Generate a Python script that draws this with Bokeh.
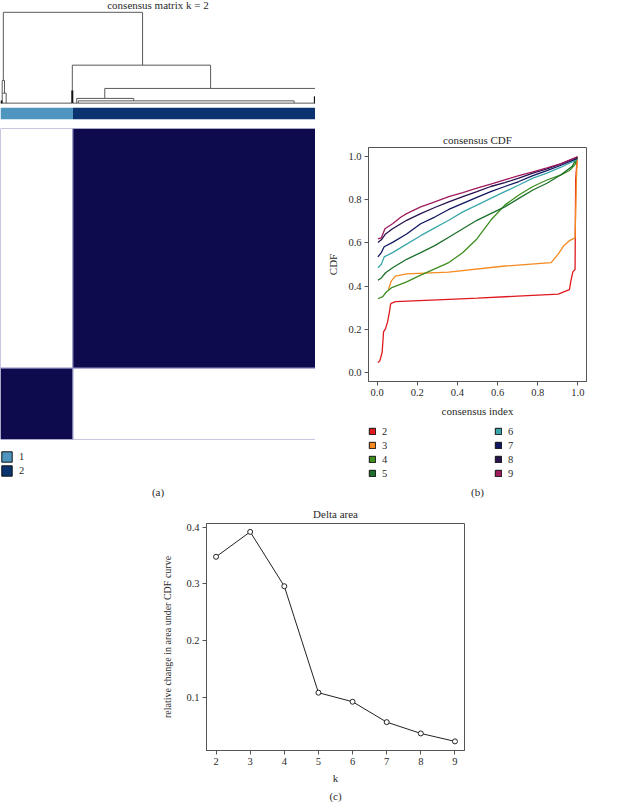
import numpy as np
from bokeh.plotting import figure
from bokeh.layouts import column, row
from bokeh.models import (Range1d, FixedTicker, Legend, LegendItem, Title, Spacer, ColumnDataSource,
                          Label, PrintfTickFormatter)
from bokeh.transform import linear_cmap
from bokeh.embed import file_html
from bokeh.resources import INLINE

FONT = "Liberation Serif"
TXT = "#2a2a2a"
FRAME = "#555555"

# ---------------- Panel (a): consensus matrix k = 2 ----------------
n_samples = 100
cluster_sizes = [23, 77]
cluster_labels = ["1", "2"]
cluster_colors = ["#4E96BF", "#0A3370"]
block_consensus = [[1.0, 0.0], [0.0, 1.0]]
heat_palette = ["#FFFFFF", "#0E0A4E"]

# dendrogram merges (left x, right x, merge height, left child height, right child height)
dend_xl = [0.9, 0.54, 0.54, 22.8, 33.1, 24.2, 24.7, 0.0, 23.0]
dend_xr = [45.1, 1.27, 1.8, 66.7, 100.0, 42.3, 93.2, 22.6, 100.0]
dend_h = [1.0, 0.25, 0.11, 0.418, 0.162, 0.052, 0.025, 0.0, 0.0]
dend_hl = [0.25, 0.11, 0.0, 0.0, 0.052, 0.0, 0.0, 0.0, 0.0]
dend_hr = [0.418, 0.11, 0.0, 0.162, 0.0, 0.025, 0.0, 0.0, 0.0]
# dense clumps of leaf merges near height 0
clump_x = [0.3, 22.8, 99.8]
clump_h = [0.03, 0.14, 0.075]

# ---------------- Panel (b): consensus CDF ----------------
cdf_k = ["2", "3", "4", "5", "6", "7", "8", "9"]
cdf_colors = ["#E0191E", "#F58A1F", "#3E8E1F", "#1C6F2A", "#3AA7AA", "#111660", "#26124F", "#A01B5E"]

cdf2_x = [0.004, 0.014, 0.025, 0.032, 0.042, 0.052, 0.060, 0.067, 0.070, 0.091, 0.30, 0.50, 0.70, 0.902, 0.958, 0.965, 0.975, 0.986, 0.989, 0.997]
cdf2_y = [0.048, 0.056, 0.095, 0.189, 0.204, 0.235, 0.274, 0.316, 0.321, 0.329, 0.337, 0.345, 0.354, 0.363, 0.384, 0.423, 0.466, 0.477, 0.890, 0.997]

cdf3_x = [0.056, 0.070, 0.091, 0.147, 0.357, 0.636, 0.867, 0.902, 0.930, 0.958, 0.986, 0.993, 0.997]
cdf3_y = [0.384, 0.423, 0.446, 0.457, 0.465, 0.493, 0.509, 0.548, 0.587, 0.610, 0.623, 0.900, 0.997]

cdf4_x = [0.004, 0.028, 0.046, 0.070, 0.147, 0.217, 0.287, 0.357, 0.427, 0.497, 0.566, 0.636, 0.706, 0.776, 0.846, 0.916, 0.958, 0.986, 0.997]
cdf4_y = [0.342, 0.352, 0.373, 0.392, 0.420, 0.451, 0.480, 0.509, 0.555, 0.618, 0.704, 0.774, 0.821, 0.860, 0.890, 0.914, 0.934, 0.961, 0.997]

cdf5_x = [0.004, 0.021, 0.042, 0.077, 0.147, 0.217, 0.287, 0.357, 0.427, 0.497, 0.566, 0.636, 0.706, 0.776, 0.846, 0.916, 0.972, 0.997]
cdf5_y = [0.427, 0.438, 0.462, 0.485, 0.524, 0.555, 0.587, 0.626, 0.665, 0.704, 0.735, 0.766, 0.805, 0.844, 0.875, 0.914, 0.953, 0.997]

cdf6_x = [0.004, 0.021, 0.035, 0.077, 0.147, 0.217, 0.287, 0.357, 0.427, 0.497, 0.566, 0.636, 0.706, 0.776, 0.846, 0.916, 0.997]
cdf6_y = [0.485, 0.501, 0.535, 0.555, 0.594, 0.633, 0.669, 0.704, 0.743, 0.774, 0.805, 0.836, 0.867, 0.899, 0.922, 0.949, 0.985]

cdf7_x = [0.004, 0.021, 0.035, 0.077, 0.147, 0.217, 0.287, 0.357, 0.427, 0.497, 0.566, 0.636, 0.706, 0.776, 0.846, 0.916, 0.997]
cdf7_y = [0.535, 0.555, 0.582, 0.602, 0.641, 0.688, 0.719, 0.754, 0.782, 0.810, 0.836, 0.860, 0.883, 0.910, 0.933, 0.958, 0.990]

cdf8_x = [0.004, 0.021, 0.042, 0.077, 0.147, 0.217, 0.287, 0.357, 0.427, 0.497, 0.566, 0.636, 0.706, 0.776, 0.846, 0.916, 0.997]
cdf8_y = [0.602, 0.614, 0.641, 0.665, 0.704, 0.735, 0.763, 0.789, 0.813, 0.836, 0.860, 0.878, 0.899, 0.922, 0.941, 0.964, 0.995]

cdf9_x = [0.004, 0.021, 0.039, 0.077, 0.119, 0.147, 0.217, 0.287, 0.357, 0.427, 0.497, 0.566, 0.636, 0.706, 0.776, 0.846, 0.916, 0.997]
cdf9_y = [0.618, 0.623, 0.665, 0.688, 0.719, 0.735, 0.766, 0.789, 0.813, 0.832, 0.852, 0.871, 0.891, 0.910, 0.927, 0.946, 0.966, 0.997]

cdf_x_ticks = [0.0, 0.2, 0.4, 0.6, 0.8, 1.0]
cdf_y_ticks = [0.0, 0.2, 0.4, 0.6, 0.8, 1.0]

# ---------------- Panel (c): Delta area ----------------
delta_k = [2, 3, 4, 5, 6, 7, 8, 9]
delta_area = [0.348, 0.392, 0.296, 0.108, 0.092, 0.056, 0.036, 0.022]
delta_y_ticks = [0.1, 0.2, 0.3, 0.4]


def bare(p):
    p.xgrid.visible = False
    p.ygrid.visible = False
    p.outline_line_color = None
    p.background_fill_color = None
    p.border_fill_color = None


def style_title(t, size="11px", standoff=3):
    t.text_font = FONT
    t.text_font_size = size
    t.text_font_style = "normal"
    t.text_color = TXT
    t.align = "center"
    t.standoff = standoff


def style_axes(p):
    p.axis.major_tick_out = 4
    p.axis.major_tick_in = 0
    p.axis.minor_tick_line_color = None
    p.axis.axis_line_color = FRAME
    p.axis.major_tick_line_color = FRAME
    p.axis.major_label_text_font = FONT
    p.axis.major_label_text_font_size = "10.5px"
    p.axis.major_label_text_color = TXT
    p.axis.major_label_standoff = 3
    p.axis.axis_label_text_font = FONT
    p.axis.axis_label_text_font_size = "11px"
    p.axis.axis_label_text_font_style = "normal"
    p.axis.axis_label_text_color = TXT
    p.axis.axis_label_standoff = 6


W_A = 315
xr_a = Range1d(0, n_samples)

# dendrogram (with the panel title drawn inside the top of its frame)
p_dend = figure(width=W_A, height=104, x_range=xr_a, y_range=Range1d(-0.015, 1.13),
                x_axis_type=None, y_axis_type=None, toolbar_location=None,
                output_backend="svg",
                min_border_left=0, min_border_right=0, min_border_top=0, min_border_bottom=0)
bare(p_dend)
p_dend.add_layout(Label(x=n_samples / 2, y=1.075, text="consensus matrix k = 2", text_align="center",
                        text_baseline="middle", text_font=FONT, text_font_size="11px", text_color=TXT))
sx0, sy0, sx1, sy1 = [], [], [], []
for xl, xr, h, hl, hr in zip(dend_xl, dend_xr, dend_h, dend_hl, dend_hr):
    sx0 += [xl, xl, xr]
    sy0 += [hl, h, h]
    sx1 += [xl, xr, xr]
    sy1 += [h, h, hr]
p_dend.segment(x0=sx0, y0=sy0, x1=sx1, y1=sy1, line_color="#5a5a5a", line_width=1)
p_dend.segment(x0=clump_x, y0=[0] * len(clump_x), x1=clump_x, y1=clump_h, line_color="#111111", line_width=2)

# cluster colour bar
starts = np.concatenate([[0], np.cumsum(cluster_sizes)[:-1]])
ends = np.cumsum(cluster_sizes)
p_bar = figure(width=W_A, height=24, x_range=xr_a, y_range=Range1d(0, 1),
               x_axis_type=None, y_axis_type=None, toolbar_location=None,
               output_backend="svg",
               min_border_left=0, min_border_right=0, min_border_top=3, min_border_bottom=9)
bare(p_bar)
p_bar.quad(left=starts, right=ends, bottom=0, top=1, fill_color=cluster_colors, line_color=None)

# consensus heatmap blocks
hl_, hr_, hb_, ht_, hv_ = [], [], [], [], []
for i in range(len(cluster_sizes)):
    for j in range(len(cluster_sizes)):
        hb_.append(starts[i]); ht_.append(ends[i])
        hl_.append(starts[j]); hr_.append(ends[j])
        hv_.append(block_consensus[i][j])
heat_src = ColumnDataSource(dict(left=hl_, right=hr_, bottom=hb_, top=ht_, consensus=hv_))
p_heat = figure(width=W_A, height=312, x_range=xr_a, y_range=Range1d(0, n_samples),
                x_axis_type=None, y_axis_type=None, toolbar_location=None,
                output_backend="svg",
                min_border_left=0, min_border_right=0, min_border_top=0, min_border_bottom=1)
bare(p_heat)
p_heat.quad(left="left", right="right", bottom="bottom", top="top", source=heat_src,
            fill_color=linear_cmap("consensus", heat_palette, 0, 1), line_color="#9090c0", line_width=1)

# legend (a)
p_lega = figure(width=W_A, height=58, x_range=Range1d(0, 1), y_range=Range1d(0, 1),
                x_axis_type=None, y_axis_type=None, toolbar_location=None,
                output_backend="svg",
                min_border_left=0, min_border_right=0, min_border_top=10, min_border_bottom=0)
bare(p_lega)
items_a = []
for lab, col in zip(cluster_labels, cluster_colors):
    r = p_lega.quad(left=[5], right=[6], bottom=[5], top=[6], fill_color=col, line_color="#111111")
    items_a.append(LegendItem(label=lab, renderers=[r]))
leg_a = Legend(items=items_a, location="top_left", margin=0, padding=0, spacing=1,
               glyph_width=13, glyph_height=13, label_height=13, label_standoff=6,
               label_text_font=FONT, label_text_font_size="10.5px", label_text_color=TXT,
               border_line_color=None, background_fill_alpha=0)
p_lega.add_layout(leg_a, "center")
ta = Title(text="(a)")
style_title(ta, standoff=2)
p_lega.add_layout(ta, "below")

col_a = column(p_dend, p_bar, p_heat, p_lega, Spacer(height=3), spacing=0)

# ---------------- Panel (b) ----------------
p_cdf = figure(width=309, height=289, x_range=Range1d(-0.043, 1.043), y_range=Range1d(-0.04, 1.04),
               toolbar_location=None, output_backend="svg", title="consensus CDF",
               x_axis_label="consensus index", y_axis_label="CDF",
               min_border_left=50, min_border_right=1, min_border_top=0, min_border_bottom=0)
p_cdf.xgrid.visible = False
p_cdf.ygrid.visible = False
p_cdf.outline_line_color = FRAME
style_title(p_cdf.title)
style_axes(p_cdf)
p_cdf.xaxis.ticker = FixedTicker(ticks=cdf_x_ticks)
p_cdf.yaxis.ticker = FixedTicker(ticks=cdf_y_ticks)
p_cdf.xaxis.formatter = PrintfTickFormatter(format="%.1f")
p_cdf.yaxis.formatter = PrintfTickFormatter(format="%.1f")
cdf_xs = [cdf2_x, cdf3_x, cdf4_x, cdf5_x, cdf6_x, cdf7_x, cdf8_x, cdf9_x]
cdf_ys = [cdf2_y, cdf3_y, cdf4_y, cdf5_y, cdf6_y, cdf7_y, cdf8_y, cdf9_y]
for xs, ys, col in zip(cdf_xs, cdf_ys, cdf_colors):
    p_cdf.line(xs, ys, line_color=col, line_width=1.3)

p_legb = figure(width=309, height=79, x_range=Range1d(0, 1), y_range=Range1d(0, 1),
                x_axis_type=None, y_axis_type=None, toolbar_location=None,
                output_backend="svg",
                min_border_left=50, min_border_right=41, min_border_top=6, min_border_bottom=0)
bare(p_legb)
items_b = []
for lab, col in zip(cdf_k, cdf_colors):
    r = p_legb.quad(left=[5], right=[6], bottom=[5], top=[6], fill_color=col, line_color="#111111")
    items_b.append(LegendItem(label=lab, renderers=[r]))
leg_b = Legend(items=items_b, location="top_left", margin=0, padding=0, spacing=2,
               orientation="vertical", nrows=4,
               glyph_width=8, glyph_height=8, label_height=12, label_width=110, label_standoff=6,
               label_text_font=FONT, label_text_font_size="10.5px", label_text_color=TXT,
               border_line_color=None, background_fill_alpha=0)
p_legb.add_layout(leg_b, "center")
tb = Title(text="(b)")
style_title(tb, standoff=2)
p_legb.add_layout(tb, "below")

col_b = column(Spacer(height=130), p_cdf, p_legb, Spacer(height=3), spacing=0)

top = row(col_a, Spacer(width=3), col_b, spacing=0)

# ---------------- Panel (c) ----------------
p_c = figure(width=312, height=300, x_range=Range1d(1.72, 9.28), y_range=Range1d(0.0059, 0.4068),
             toolbar_location=None, output_backend="svg", title="Delta area",
             x_axis_label="k", y_axis_label="relative change in area under CDF curve",
             min_border_left=50, min_border_right=4, min_border_top=0, min_border_bottom=0)
p_c.xgrid.visible = False
p_c.ygrid.visible = False
p_c.outline_line_color = FRAME
style_title(p_c.title, standoff=7)
style_axes(p_c)
p_c.xaxis.axis_label_standoff = 4
p_c.yaxis.axis_label_text_font_size = "10px"
p_c.yaxis.axis_label_standoff = 10
p_c.xaxis.ticker = FixedTicker(ticks=delta_k)
p_c.yaxis.ticker = FixedTicker(ticks=delta_y_ticks)
p_c.line(delta_k, delta_area, line_color="#222222", line_width=1)
p_c.scatter(delta_k, delta_area, size=5, marker="circle", fill_color="white", line_color="#222222", line_width=1)
tc = Title(text="(c)")
style_title(tc, standoff=2)
p_c.add_layout(tc, "below")

bottom = row(Spacer(width=156), column(Spacer(height=1), p_c, spacing=0), spacing=0)

layout = column(top, bottom, spacing=0)

open("out.html", "w").write(file_html(layout, INLINE))
